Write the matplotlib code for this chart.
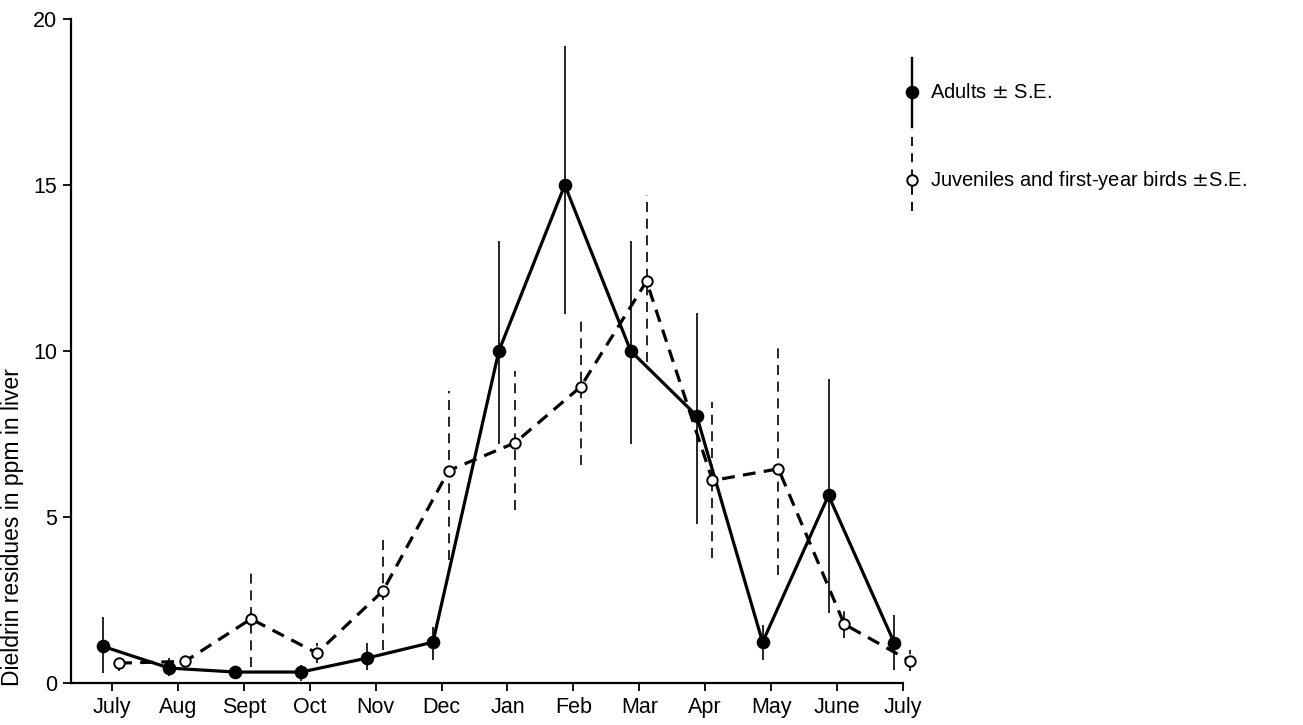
import numpy as np
import matplotlib
matplotlib.use("Agg")
import matplotlib.pyplot as plt
from matplotlib.lines import Line2D

plt.rcParams['font.family'] = ['Liberation Sans', 'DejaVu Sans']

months = ["July", "Aug", "Sept", "Oct", "Nov", "Dec", "Jan", "Feb",
          "Mar", "Apr", "May", "June", "July"]

# adults: mean and lower / upper ends of the S.E. bar
adult_mean = [1.1, 0.45, 0.33, 0.33, 0.75, 1.23, 10.0, 15.0, 10.0, 8.05, 1.23, 5.65, 1.2]
adult_lo = [0.3, 0.2, 0.33, 0.05, 0.4, 0.7, 7.2, 11.1, 7.2, 4.8, 0.7, 2.1, 0.4]
adult_hi = [2.0, 0.75, 0.33, 0.55, 1.2, 1.7, 13.3, 19.2, 13.3, 11.15, 1.75, 9.15, 2.05]

# juveniles and first-year birds
juv_mean = [0.6, 0.65, 1.93, 0.9, 2.77, 6.4, 7.23, 8.92, 12.1, 6.1, 6.45, 1.77, 0.66]
juv_lo = [0.35, 0.5, 0.48, 0.6, 1.0, 3.7, 5.2, 6.57, 9.67, 3.77, 3.25, 1.35, 0.35]
juv_hi = [0.85, 0.85, 3.4, 1.2, 4.5, 8.8, 9.4, 11.05, 14.7, 8.46, 10.1, 2.2, 1.0]

W, H = 1303, 725
fig = plt.figure(figsize=(W / 100, H / 100), dpi=100)
ax = fig.add_axes([71 / W, 1 - 683 / H, (903 - 71) / W, (683 - 19) / H])

x = np.arange(len(months))
xa = x - 0.13
xj = x + 0.11

am = np.array(adult_mean)
jm = np.array(juv_mean)
a_err = [am - np.array(adult_lo), np.array(adult_hi) - am]
j_err = [jm - np.array(juv_lo), np.array(juv_hi) - jm]

# adults
ax.errorbar(xa, am, yerr=a_err, fmt='none', ecolor='black', elinewidth=1.2,
            capsize=0, zorder=2, clip_on=False)
ax.plot(xa, am, color='black', lw=2.3, zorder=3, clip_on=False)
ax.plot(xa, am, 'o', color='black', ms=8.8, zorder=5, clip_on=False)

# juveniles
eb2 = ax.errorbar(xj, jm, yerr=j_err, fmt='none', ecolor='black', elinewidth=1.2,
                  capsize=0, zorder=2, clip_on=False)
for c in eb2[2]:
    c.set_linestyle((0, (6, 4)))
ax.plot(xj, jm, color='black', lw=2.3, ls=(0, (4, 2.6)), zorder=3, clip_on=False)
ax.plot(xj, jm, 'o', mfc='white', mec='black', mew=1.4, ms=7.5, zorder=5, clip_on=False)

ax.set_xlim(-0.62, 12)
ax.set_ylim(0, 20)
ax.set_xticks(x)
ax.set_xticklabels(months)
ax.set_yticks([0, 5, 10, 15, 20])
ax.tick_params(axis='both', labelsize=15.5, width=1.3, length=6, direction='out', pad=4)
for s in ['top', 'right']:
    ax.spines[s].set_visible(False)
for s in ['left', 'bottom']:
    ax.spines[s].set_linewidth(1.6)

fig.text(13 / W, 1 - 527 / H, "Dieldrin residues in ppm in liver", rotation=90,
         ha='center', va='center', fontsize=16.5)

# hand drawn key on the right
def fx(px):
    return px / W

def fy(py):
    return 1 - py / H

fig.add_artist(Line2D([fx(912), fx(912)], [fy(58), fy(127)], color='black', lw=1.7))
fig.add_artist(Line2D([fx(912)], [fy(92)], marker='o', color='black', ms=8.8))
fig.add_artist(Line2D([fx(912), fx(912)], [fy(137), fy(217)], color='black', lw=1.3,
                      ls=(0, (5, 4))))
fig.add_artist(Line2D([fx(912)], [fy(180)], marker='o', mfc='white', mec='black',
                      mew=1.4, ms=7.5))
fig.text(fx(930), fy(92), "Adults $\\pm$ S.E.", va='center', ha='left', fontsize=14.5)
fig.text(fx(930), fy(180), "Juveniles and first-year birds $\\pm$S.E.", va='center',
         ha='left', fontsize=14.5)

fig.savefig("out.png", dpi=100)
